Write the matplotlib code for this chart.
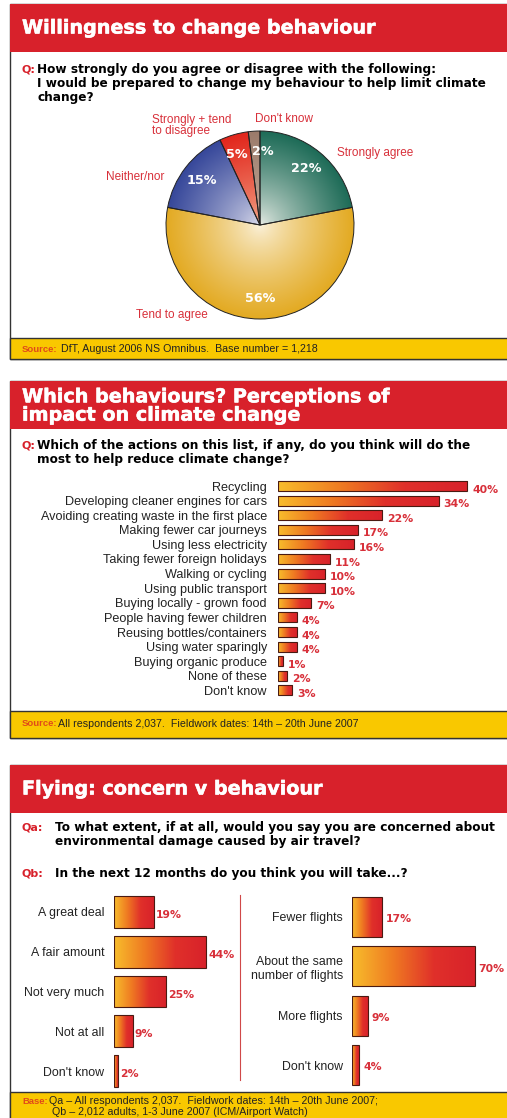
#plot.py
#three survey panels: pie + two bar charts, drawn in pixel-sized axes

import numpy as np
import matplotlib
matplotlib.use('Agg')
import matplotlib.pyplot as plt
import matplotlib.patheffects as pe
from matplotlib.patches import Rectangle
from matplotlib.colors import LinearSegmentedColormap, to_rgb

plt.rcParams['font.family'] = ['Liberation Sans', 'DejaVu Sans']

########## DATA
pie_labels = ['Strongly agree', 'Tend to agree', 'Neither/nor', 'Strongly + tend\nto disagree', "Don't know"]
pie_values = [22, 56, 15, 5, 2]

actions = ['Recycling', 'Developing cleaner engines for cars', 'Avoiding creating waste in the first place',
           'Making fewer car journeys', 'Using less electricity', 'Taking fewer foreign holidays',
           'Walking or cycling', 'Using public transport', 'Buying locally - grown food',
           'People having fewer children', 'Reusing bottles/containers', 'Using water sparingly',
           'Buying organic produce', 'None of these', "Don't know"]
action_pct = [40, 34, 22, 17, 16, 11, 10, 10, 7, 4, 4, 4, 1, 2, 3]

concern = ['A great deal', 'A fair amount', 'Not very much', 'Not at all', "Don't know"]
concern_pct = [19, 44, 25, 9, 2]

flights = ['Fewer flights', 'About the same\nnumber of flights', 'More flights', "Don't know"]
flights_pct = [17, 70, 9, 4]

########## STYLE
RED = '#d8212b'
YELLOW = '#f9c800'
LABEL_RED = '#d8303a'
W, H = 507, 1118
bar_cmap = LinearSegmentedColormap.from_list('bars', ['#f8bd2c', '#ef7a22', '#e0302a', '#d8222a'])

fig = plt.figure(figsize=(W/100, H/100), dpi=100)

# background axes in pixel units (y down)
bg = fig.add_axes([0, 0, 1, 1])
bg.set_xlim(0, W)
bg.set_ylim(H, 0)
bg.axis('off')


def add_ax(left, top, w, h):
    ax = fig.add_axes([left/W, 1-(top+h)/H, w/W, h/H])
    ax.set_facecolor('none')
    return ax


def panel(top, bottom, head_h, foot_h):
    bg.add_patch(Rectangle((10, top), 520, bottom-top, facecolor='white', edgecolor='#333333', lw=1))
    bg.add_patch(Rectangle((10, top), 520, head_h, facecolor=RED, edgecolor='none'))
    bg.add_patch(Rectangle((10, bottom-foot_h), 520, foot_h, facecolor=YELLOW, edgecolor='#333333', lw=1))


def question(y, tag, lines, indent):
    bg.text(22, y, tag, color=RED, fontsize=8.0, fontweight='bold', family='DejaVu Sans', va='center')
    for i, line in enumerate(lines):
        bg.text(indent, y + i*14, line, color='black', fontsize=8.7, fontweight='bold',
                family='DejaVu Sans', va='center')


def title(y, s):
    bg.text(22, y, s, color='white', fontsize=13.8, fontweight='bold', family='DejaVu Sans',
            va='center', linespacing=0.95,
            path_effects=[pe.withStroke(linewidth=0.4, foreground='white')])


def source(y, tag, x, s):
    bg.text(22, y, tag, color='#e04a1a', fontsize=6.8, fontweight='bold', va='center')
    bg.text(x, y, s, color='#222222', fontsize=7.7, va='center')


def gradient_bars(ax, bars):
    grad = np.linspace(0, 1, 256).reshape(1, -1)
    for b in bars:
        x0, y0, w, h = b.get_x(), b.get_y(), b.get_width(), b.get_height()
        b.set_facecolor('none')
        b.set_zorder(3)
        im = ax.imshow(grad, cmap=bar_cmap, extent=(x0, x0 + w, y0, y0 + h), aspect='auto', zorder=2)
        im.set_clip_path(b)


def bar_panel(ax, labels, values, xmax, height, fs, pad, dx, dy):
    n = len(values)
    bars = ax.barh(range(n), values, height=height, edgecolor='#4a1a12', linewidth=0.8)
    gradient_bars(ax, bars)
    for i, v in enumerate(values):
        ax.text(v + dx, i + dy, f'{v}%', color=LABEL_RED, fontsize=7.8, fontweight='bold',
                family='DejaVu Sans', va='center', ha='left')
    ax.set_xlim(0, xmax)
    ax.set_ylim(n - 0.5, -0.5)
    ax.set_yticks(range(n))
    ax.set_yticklabels(labels, fontsize=fs, color='#222222')
    ax.tick_params(axis='y', length=0, pad=pad)
    ax.set_xticks([])
    for s in ax.spines.values():
        s.set_visible(False)


########## 1. PIE PANEL
panel(4, 359, 48, 21)
title(28, 'Willingness to change behaviour')
question(70, 'Q:', ['How strongly do you agree or disagree with the following:',
                    'I would be prepared to change my behaviour to help limit climate',
                    'change?'], 37)

pie_dark = ['#1d6b57', '#e3aa22', '#36479a', '#e2261c', '#9b7b6b']
pie_light = ['#eef0ea', '#fbf3e0', '#dfe0ee', '#f4b090', '#cdb5a5']

ax1 = add_ax(166, 131, 188, 188)
wedges, _, autotexts = ax1.pie(pie_values, startangle=90, counterclock=False,
                               autopct=lambda p: f'{p:.0f}%', pctdistance=0.78,
                               wedgeprops=dict(edgecolor='#222222', linewidth=0.7),
                               textprops=dict(color='white', fontweight='bold', fontsize=9.2,
                                              family='DejaVu Sans'))
xx, yy = np.meshgrid(np.linspace(-1, 1, 300), np.linspace(1, -1, 300))
rr = np.clip(np.hypot(xx, yy), 0, 1) ** 0.75
for w_, dark, light in zip(wedges, pie_dark, pie_light):
    d = np.array(to_rgb(dark))
    l = np.array(to_rgb(light))
    img = l[None, None, :] * (1 - rr[..., None]) + d[None, None, :] * rr[..., None]
    w_.set_facecolor('none')
    w_.set_zorder(3)
    im = ax1.imshow(img, extent=(-1, 1, -1, 1), zorder=2)
    im.set_clip_path(w_)
for t in autotexts:
    t.set_zorder(5)
# the two thin slices: nudge their numbers apart
autotexts[3].set_x(-0.25)
autotexts[4].set_x(0.03)
ax1.set_xlim(-1, 1)
ax1.set_ylim(-1, 1)
ax1.axis('off')

# outside labels
label_pos = [(1.22, 0.77, 'center'), (-0.94, -0.96, 'center'), (-1.33, 0.51, 'center'),
             (-1.15, 1.06, 'left'), (0.26, 1.13, 'center')]
for lab, (lx, ly, ha) in zip(pie_labels, label_pos):
    ax1.text(lx, ly, lab, color=LABEL_RED, fontsize=8.5, ha=ha, va='center', linespacing=0.95)

source(349, 'Source:', 61, 'DfT, August 2006 NS Omnibus.  Base number = 1,218')

########## 2. BEHAVIOURS PANEL
panel(381, 738, 48, 27)
title(406, 'Which behaviours? Perceptions of\nimpact on climate change')
question(445, 'Q:', ['Which of the actions on this list, if any, do you think will do the',
                     'most to help reduce climate change?'], 37)

ax2 = add_ax(278, 478.7, 213, 219)
bar_panel(ax2, actions, action_pct, 45, 0.68, 9.1, 8, 1.0, 0.25)

source(724, 'Source:', 58, 'All respondents 2,037.  Fieldwork dates: 14th \u2013 20th June 2007')

########## 3. FLYING PANEL
panel(765, 1125, 48, 33)
title(789, 'Flying: concern v behaviour')
question(828, 'Qa:', ['To what extent, if at all, would you say you are concerned about',
                      'environmental damage caused by air travel?'], 55)
question(873, 'Qb:', ['In the next 12 months do you think you will take...?'], 55)

ax3 = add_ax(114, 892, 104.5, 199)
bar_panel(ax3, concern, concern_pct, 50, 0.8, 8.9, 7, 1.0, 0.08)

ax4 = add_ax(352, 892.3, 140, 197.4)
bar_panel(ax4, flights, flights_pct, 80, 0.81, 8.9, 6.5, 2.3, 0.05)

bg.plot([240, 240], [895, 1080], color='#d04848', lw=0.8)

source(1101, 'Base:', 49, 'Qa \u2013 All respondents 2,037.  Fieldwork dates: 14th \u2013 20th June 2007;')
bg.text(52, 1112, 'Qb \u2013 2,012 adults, 1-3 June 2007 (ICM/Airport Watch)',
        color='#222222', fontsize=7.7, va='center')

fig.savefig('out.png', dpi=100)
